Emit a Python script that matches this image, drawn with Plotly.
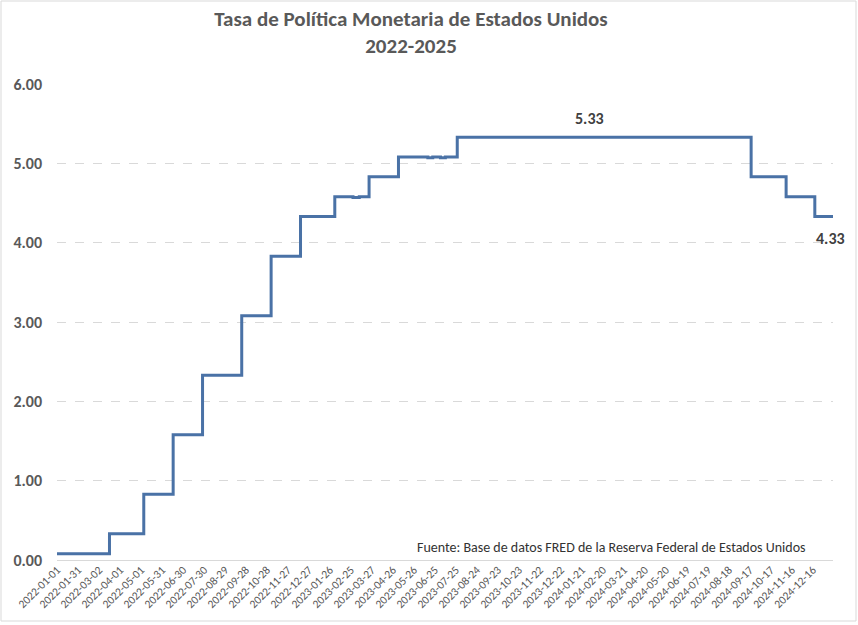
import plotly.graph_objects as go

# Step-change dates of the effective federal funds rate
step_dates = ["2022-01-01", "2022-03-17", "2022-05-05", "2022-06-16", "2022-07-28",
              "2022-09-22", "2022-11-03", "2022-12-15", "2023-02-02", "2023-02-28",
              "2023-03-09", "2023-03-23", "2023-05-04", "2023-06-15", "2023-06-22",
              "2023-07-03", "2023-07-10", "2023-07-27", "2024-09-19", "2024-11-08",
              "2024-12-19", "2025-01-14"]
step_values = [0.08, 0.33, 0.83, 1.58, 2.33,
               3.08, 3.83, 4.33, 4.58, 4.57,
               4.58, 4.83, 5.08, 5.07, 5.08,
               5.07, 5.08, 5.33, 4.83, 4.58,
               4.33, 4.33]

tick_labels = ["2022-01-01", "2022-01-31", "2022-03-02", "2022-04-01", "2022-05-01",
               "2022-05-31", "2022-06-30", "2022-07-30", "2022-08-29", "2022-09-28",
               "2022-10-28", "2022-11-27", "2022-12-27", "2023-01-26", "2023-02-25",
               "2023-03-27", "2023-04-26", "2023-05-26", "2023-06-25", "2023-07-25",
               "2023-08-24", "2023-09-23", "2023-10-23", "2023-11-22", "2023-12-22",
               "2024-01-21", "2024-02-20", "2024-03-21", "2024-04-20", "2024-05-20",
               "2024-06-19", "2024-07-19", "2024-08-18", "2024-09-17", "2024-10-17",
               "2024-11-16", "2024-12-16"]
y_ticks = [0, 1, 2, 3, 4, 5, 6]

FONT = "Carlito, Lato, 'Open Sans', sans-serif"
GRAY = "#595959"
LINE = "#4A72A6"

fig = go.Figure()
fig.add_trace(go.Scatter(
    x=step_dates, y=step_values, mode="lines",
    line=dict(color=LINE, width=3, shape="hv"),
    hoverinfo="x+y", showlegend=False,
))

fig.update_layout(
    width=858, height=625,
    margin=dict(l=57, r=25, t=84, b=65),
    paper_bgcolor="white", plot_bgcolor="white",
    font=dict(family=FONT, color=GRAY),
    title=dict(
        text="<b>Tasa de Política Monetaria de Estados Unidos<br>2022-2025</b>",
        x=411 / 858, xanchor="center", y=1 - 26 / 625, yanchor="middle",
        font=dict(family=FONT, size=21, color=GRAY),
    ),
    xaxis=dict(
        type="date",
        range=[step_dates[0], step_dates[-1]],
        tickmode="array", tickvals=tick_labels, ticktext=tick_labels,
        tickangle=-45, tickfont=dict(family=FONT, size=11.5, color=GRAY),
        showgrid=False, zeroline=False, showline=False, ticks="",
    ),
    yaxis=dict(
        range=[0, 6], tickvals=y_ticks, tickformat=".2f",
        tickfont=dict(family=FONT, size=16, color=GRAY, weight="bold"),
        showgrid=True, gridcolor="#D9D9D9", griddash="dash", gridwidth=1,
        zeroline=True, zerolinecolor="#D9D9D9", zerolinewidth=1,
        showline=False, ticks="", ticklabelstandoff=14,
    ),
    annotations=[
        dict(x="2024-02-01", y=step_values[17], xref="x", yref="y",
             text="<b>5.33</b>", showarrow=False, yshift=19,
             font=dict(family=FONT, size=16, color="#404040")),
        dict(x=step_dates[-1], y=step_values[-1], xref="x", yref="y",
             text="<b>4.33</b>", showarrow=False, yshift=-22, xshift=-3,
             font=dict(family=FONT, size=16, color="#404040")),
        dict(x=(808 - 57) / 776, y=(560 - 547) / 476, xref="paper", yref="paper",
             xanchor="right", yanchor="middle", showarrow=False,
             text="Fuente: Base de datos FRED de la Reserva Federal de Estados Unidos",
             font=dict(family=FONT, size=14, color="#333333", weight="normal")),
    ],
    shapes=[
        dict(type="rect", xref="paper", yref="paper",
             x0=(1 - 57) / 776, x1=(856 - 57) / 776,
             y0=(560 - 621) / 476, y1=(560 - 1) / 476,
             line=dict(color="#D9D9D9", width=1), fillcolor="rgba(0,0,0,0)", layer="below"),
    ],
)

fig.write_html("out.html", config={"displayModeBar": False},
               post_script="document.body.style.margin='0';")
